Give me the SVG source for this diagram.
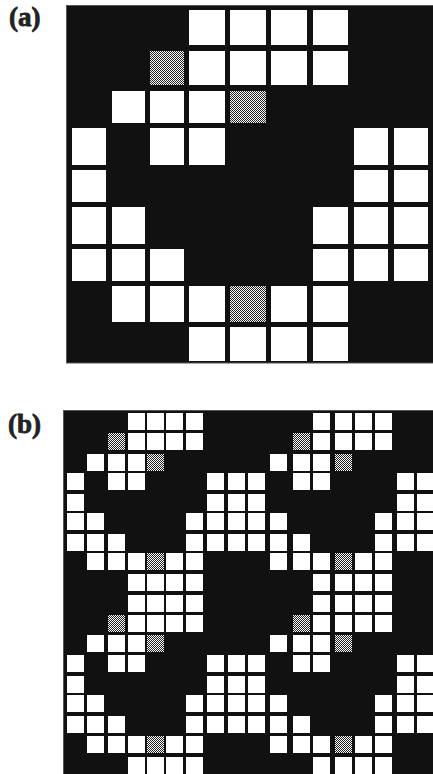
<svg xmlns="http://www.w3.org/2000/svg" xmlns:xlink="http://www.w3.org/1999/xlink" width="433" height="774" viewBox="0 0 433 774">
<style>
.bg{fill:#111;stroke:#555;stroke-width:1}
.w{fill:#fff}
.g{fill:url(#ht)}
.lbl{font-family:"Liberation Serif","Times New Roman",serif;font-weight:bold;font-size:27px;fill:#222;stroke:#222;stroke-width:0.8}
</style>
<defs>
<pattern id="ht" patternUnits="userSpaceOnUse" width="2" height="2">
<rect width="2" height="2" fill="#fff"/>
<rect width="1" height="1" fill="#222"/>
<rect x="1" y="1" width="1" height="1" fill="#222"/>
</pattern>
<g id="t0"><rect class="w" x="128" width="17" height="17"/><rect class="w" x="147" width="17" height="17"/><rect class="w" x="166" width="17" height="17"/><rect class="w" x="186" width="17" height="17"/><rect class="w" x="313" width="17" height="17"/><rect class="w" x="335" width="17" height="17"/><rect class="w" x="355" width="17" height="17"/><rect class="w" x="375" width="17" height="17"/></g>
<g id="t1"><rect class="g" x="108" width="17" height="17"/><rect class="g" x="293" width="17" height="17"/><use xlink:href="#t0"/></g>
<g id="t2"><rect class="w" x="87" width="17" height="17"/><rect class="w" x="108" width="17" height="17"/><rect class="w" x="128" width="17" height="17"/><rect class="g" x="147" width="17" height="17"/><rect class="w" x="270" width="17" height="17"/><rect class="w" x="293" width="17" height="17"/><rect class="w" x="313" width="17" height="17"/><rect class="g" x="335" width="17" height="17"/></g>
<g id="t3"><rect class="w" x="67" width="17" height="17"/><rect class="w" x="108" width="17" height="17"/><rect class="w" x="128" width="17" height="17"/><rect class="w" x="207" width="17" height="17"/><rect class="w" x="228" width="17" height="17"/><rect class="w" x="248" width="17" height="17"/><rect class="w" x="293" width="17" height="17"/><rect class="w" x="313" width="17" height="17"/><rect class="w" x="397" width="17" height="17"/><rect class="w" x="417" width="16" height="17"/></g>
<g id="t4"><rect class="w" x="67" width="17" height="17"/><rect class="w" x="207" width="17" height="17"/><rect class="w" x="228" width="17" height="17"/><rect class="w" x="248" width="17" height="17"/><rect class="w" x="397" width="17" height="17"/><rect class="w" x="417" width="16" height="17"/></g>
<g id="t5"><rect class="w" x="67" width="17" height="17"/><rect class="w" x="87" width="17" height="17"/><rect class="w" x="186" width="17" height="17"/><rect class="w" x="207" width="17" height="17"/><rect class="w" x="228" width="17" height="17"/><rect class="w" x="248" width="17" height="17"/><rect class="w" x="270" width="17" height="17"/><rect class="w" x="375" width="17" height="17"/><rect class="w" x="397" width="17" height="17"/><rect class="w" x="417" width="16" height="17"/></g>
<g id="t6"><use xlink:href="#t5"/><rect class="w" x="108" width="17" height="17"/><rect class="w" x="293" width="17" height="17"/></g>
<g id="t7"><rect class="w" x="87" width="17" height="17"/><rect class="w" x="108" width="17" height="17"/><rect class="w" x="128" width="17" height="17"/><rect class="g" x="147" width="17" height="17"/><rect class="w" x="166" width="17" height="17"/><rect class="w" x="186" width="17" height="17"/><rect class="w" x="270" width="17" height="17"/><rect class="w" x="293" width="17" height="17"/><rect class="w" x="313" width="17" height="17"/><rect class="g" x="335" width="17" height="17"/><rect class="w" x="355" width="17" height="17"/><rect class="w" x="375" width="17" height="17"/></g>
</defs>
<rect width="433" height="774" fill="#fff"/>
<g id="panel-a">
<text class="lbl" x="9" y="26">(a)</text>
<rect class="bg" x="66.5" y="5.5" width="367" height="357.5"/>
<rect class="w" x="189" y="10" width="36" height="35"/><rect class="w" x="230" y="10" width="36" height="35"/><rect class="w" x="271" y="10" width="36" height="35"/><rect class="w" x="313" y="10" width="35" height="35"/>
<rect class="g" x="150" y="51" width="34" height="34"/><rect class="w" x="189" y="51" width="36" height="34"/><rect class="w" x="230" y="51" width="36" height="34"/><rect class="w" x="271" y="51" width="36" height="34"/><rect class="w" x="313" y="51" width="35" height="34"/>
<rect class="w" x="112" y="91" width="33" height="32"/><rect class="w" x="150" y="91" width="34" height="32"/><rect class="w" x="189" y="91" width="36" height="32"/><rect class="g" x="230" y="91" width="36" height="32"/>
<rect class="w" x="72" y="128" width="34" height="37"/><rect class="w" x="150" y="128" width="34" height="37"/><rect class="w" x="189" y="128" width="36" height="37"/><rect class="w" x="354" y="128" width="34" height="37"/><rect class="w" x="394" y="128" width="34" height="37"/>
<rect class="w" x="72" y="170" width="34" height="32"/><rect class="w" x="354" y="170" width="34" height="32"/><rect class="w" x="394" y="170" width="34" height="32"/>
<rect class="w" x="72" y="207" width="34" height="37"/><rect class="w" x="112" y="207" width="33" height="37"/><rect class="w" x="313" y="207" width="35" height="37"/><rect class="w" x="354" y="207" width="34" height="37"/><rect class="w" x="394" y="207" width="34" height="37"/>
<rect class="w" x="72" y="249" width="34" height="32"/><rect class="w" x="112" y="249" width="33" height="32"/><rect class="w" x="150" y="249" width="34" height="32"/><rect class="w" x="313" y="249" width="35" height="32"/><rect class="w" x="354" y="249" width="34" height="32"/><rect class="w" x="394" y="249" width="34" height="32"/>
<rect class="w" x="112" y="286" width="33" height="36"/><rect class="w" x="150" y="286" width="34" height="36"/><rect class="w" x="189" y="286" width="36" height="36"/><rect class="g" x="230" y="286" width="36" height="36"/><rect class="w" x="271" y="286" width="36" height="36"/><rect class="w" x="313" y="286" width="35" height="36"/>
<rect class="w" x="189" y="327" width="36" height="34"/><rect class="w" x="230" y="327" width="36" height="34"/><rect class="w" x="271" y="327" width="36" height="34"/><rect class="w" x="313" y="327" width="35" height="34"/>
</g>
<g id="panel-b">
<text class="lbl" x="8" y="433">(b)</text>
<rect class="bg" x="63.5" y="410.5" width="370" height="364"/>
<use xlink:href="#t0" y="413"/>
<use xlink:href="#t1" y="433"/>
<use xlink:href="#t2" y="454"/>
<use xlink:href="#t3" y="473"/>
<use xlink:href="#t4" y="494"/>
<use xlink:href="#t5" y="513"/>
<use xlink:href="#t6" y="534"/>
<use xlink:href="#t7" y="553"/>
<use xlink:href="#t0" y="574"/>
<use xlink:href="#t0" y="595"/>
<use xlink:href="#t1" y="615"/>
<use xlink:href="#t2" y="635"/>
<use xlink:href="#t3" y="655"/>
<use xlink:href="#t4" y="676"/>
<use xlink:href="#t5" y="695"/>
<use xlink:href="#t6" y="716"/>
<use xlink:href="#t7" y="736"/>
<use xlink:href="#t0" y="757"/>
</g>
</svg>
